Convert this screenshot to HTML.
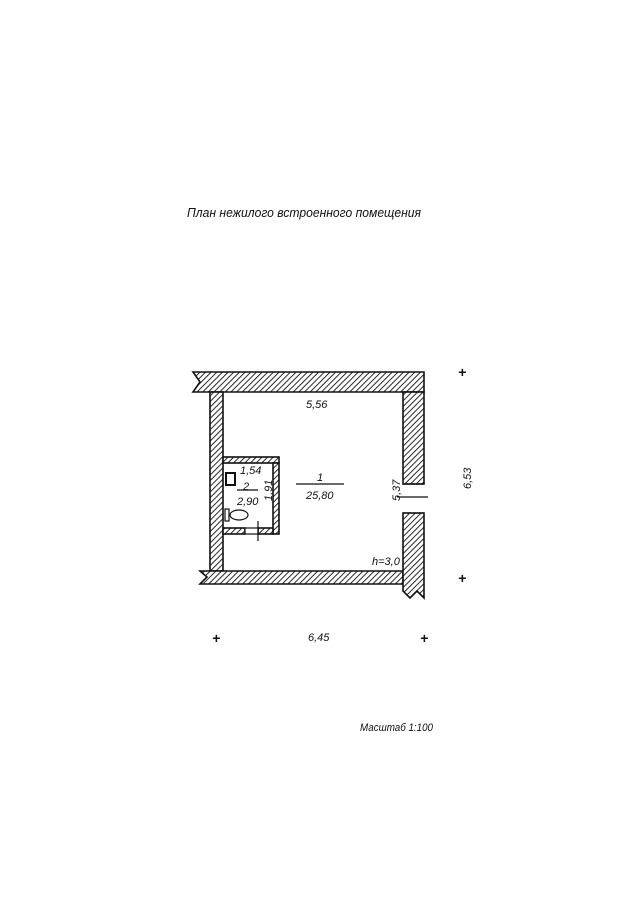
<!DOCTYPE html>
<html><head><meta charset="utf-8"><style>
html,body{margin:0;padding:0;background:#fff;}
svg{display:block;}
text{font-family:"Liberation Sans","DejaVu Sans",sans-serif;font-style:italic;fill:#111;}
</style></head><body>
<svg width="632" height="910" viewBox="0 0 632 910" xmlns="http://www.w3.org/2000/svg">
<defs>
<pattern id="h" patternUnits="userSpaceOnUse" width="4" height="4" patternTransform="rotate(45)">
<rect width="4" height="4" fill="#fff"/><line x1="0" y1="0" x2="0" y2="4" stroke="#111" stroke-width="1.8"/>
</pattern>
</defs>
<text x="187" y="217" font-size="13" textLength="234" lengthAdjust="spacingAndGlyphs">План нежилого встроенного помещения</text>
<g stroke="#111" stroke-width="1.6" fill="url(#h)">
<path d="M193,372 L424,372 L424,392 L223,392 L210,392 L193,392 L200,382 Z"/>
<rect x="210" y="392" width="13" height="179"/>
<path d="M200,571 L403,571 L403,584 L200,584 L207,577 Z"/>
<rect x="403" y="392" width="21" height="92"/>
<path d="M403,513 L424,513 L424,598 L417,591 L410,598 L403,591 Z"/>
<rect x="223" y="457" width="56" height="6"/>
<rect x="273" y="463" width="6" height="71"/>
<rect x="223" y="528" width="22" height="6"/>
<rect x="258" y="528" width="15" height="6"/>
</g>
<g stroke="#111" stroke-width="1.2" fill="none">
<rect x="245" y="528" width="13" height="6" fill="#fff"/>
<line x1="258" y1="521" x2="258" y2="541"/>
<line x1="403" y1="484" x2="424" y2="484"/>
<line x1="403" y1="513" x2="424" y2="513"/>
<line x1="397" y1="497" x2="428" y2="497"/>
<line x1="296" y1="484" x2="344" y2="484"/>
<line x1="237" y1="490" x2="258" y2="490"/>
<rect x="226" y="473" width="9" height="12" stroke-width="2"/>
<rect x="225" y="509" width="4" height="12"/>
<ellipse cx="239" cy="515" rx="9" ry="5"/>
</g>
<g font-size="11">
<text x="306" y="408">5,56</text>
<text x="317" y="481">1</text>
<text x="306" y="499">25,80</text>
<text x="240" y="474">1,54</text>
<text x="243" y="490">2</text>
<text x="237" y="505">2,90</text>
<text transform="translate(272,501) rotate(-90)">1,91</text>
<text transform="translate(400,501) rotate(-90)">5,37</text>
<text x="372" y="565">h=3,0</text>
<text transform="translate(471,489) rotate(-90)">6,53</text>
<text x="308" y="641">6,45</text>
<text x="360" y="731" textLength="73" lengthAdjust="spacingAndGlyphs">Масштаб 1:100</text>
</g>
<g font-size="14" style="font-style:normal;font-weight:bold">
<text x="458" y="377">+</text>
<text x="458" y="583">+</text>
<text x="212" y="643">+</text>
<text x="420" y="643">+</text>
</g>
</svg>
</body></html>
